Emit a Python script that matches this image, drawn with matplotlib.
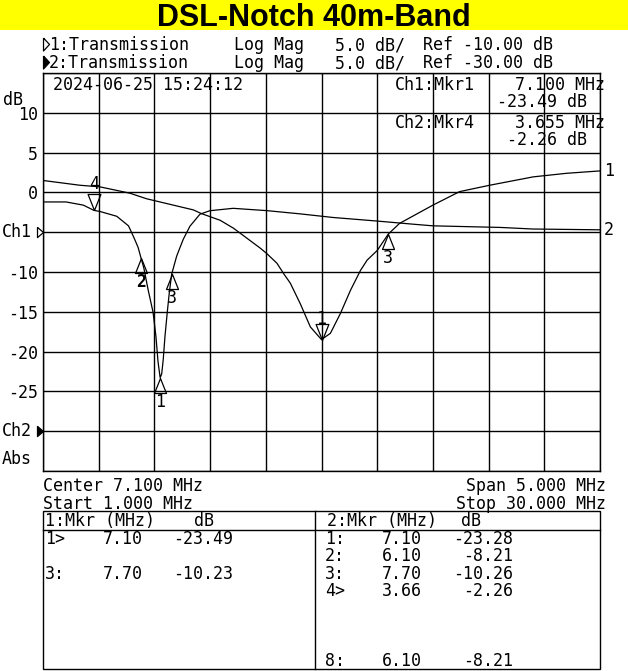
import matplotlib
matplotlib.use("Agg")
import matplotlib.pyplot as plt
from matplotlib.patches import Rectangle
import numpy as np

# Ch1: narrow sweep (centre 7.1 MHz, span 5 MHz), ref -10 dB, 5 dB/div
ch1_mhz = [4.60, 4.93, 5.11, 5.38, 5.53, 5.77, 5.95, 6.02, 6.19, 6.31, 6.55, 6.61,
           6.70, 6.76, 6.82, 6.91, 7.00, 7.10, 7.18, 7.27, 7.36, 7.45, 7.51, 7.60,
           7.70, 7.80, 8.10, 8.34, 8.61, 9.00, 9.30, 9.60]
ch1_db = [-3.5, -4.1, -4.3, -5.1, -5.8, -6.6, -7.2, -7.65, -8.5, -9.5, -12.0, -12.7,
          -13.9, -15.2, -16.4, -19.0, -21.9, -23.49, -22.7, -20.2, -17.3, -14.8, -13.5, -12.3,
          -10.23, -8.9, -6.6, -4.9, -4.1, -3.05, -2.6, -2.3]

# Ch2: wide sweep 1..30 MHz, ref -30 dB, 5 dB/div
ch2_mhz = [1.0, 2.2, 3.1, 3.655, 3.97, 4.84, 5.45, 5.72, 5.95, 6.10, 6.25, 6.47,
           6.73, 6.88, 6.99, 7.10, 7.18, 7.26, 7.35, 7.47, 7.58, 7.70, 7.96, 8.30,
           8.65, 9.17, 9.69, 10.9, 12.7, 14.4, 16.1, 18.4, 20.3, 21.3, 24.8, 26.5, 30.0]
ch2_db = [-1.2, -1.2, -1.6, -2.26, -2.4, -3.0, -4.2, -5.6, -6.9, -8.21, -9.5, -12.2,
          -15.05, -18.1, -21.3, -23.28, -22.8, -21.0, -18.1, -15.05, -12.5, -10.26, -8.0, -5.9,
          -4.25, -2.74, -2.3, -2.0, -2.3, -2.7, -3.15, -3.6, -4.0, -4.2, -4.4, -4.6, -4.7]

CH1_CENTER, CH1_SPAN, CH1_REF = 7.1, 5.0, -10.0
CH2_START, CH2_STOP, CH2_REF = 1.0, 30.0, -30.0
SCALE = 5.0

ch1_mkr_ids = ["1", "3"]
ch1_mkr_mhz = [7.10, 7.70]
ch1_mkr_db = [-23.49, -10.23]
ch1_active = "1"

ch2_mkr_ids = ["1", "2", "3", "4"]
ch2_mkr_mhz = [7.10, 6.10, 7.70, 3.655]
ch2_mkr_db = [-23.28, -8.21, -10.26, -2.26]
ch2_active = "4"

y_tick_vals = [10, 5, 0, -10, -15, -20, -25]

tab1_rows = [0, 2]
tab1_ids = ["1>", "3:"]
tab1_mhz = ["7.10", "7.70"]
tab1_db = ["-23.49", "-10.23"]
tab2_rows = [0, 1, 2, 3, 7]
tab2_ids = ["1:", "2:", "3:", "4>", "8:"]
tab2_mhz = ["7.10", "6.10", "7.70", "3.66", "6.10"]
tab2_db = ["-23.28", "-8.21", "-10.26", "-2.26", "-8.21"]

W, H = 628, 671
MONO = dict(family=["DejaVu Sans Mono", "DejaVu Sans"], size=12, color="black")
PT = 0.72  # points per pixel at dpi 100

TRI_UP = [(0, 0), (-0.4, -1), (0.4, -1), (0, 0)]
TRI_DN = [(0, 0), (-0.4, 1), (0.4, 1), (0, 0)]
REF_TRI = [(-1, 0.85), (-1, -0.85), (0, 0), (-1, 0.85)]
HDR_TRI = [(-0.92, 1), (-0.92, -1), (0, 0), (-0.92, 1)]


def rect(x0, y0, x1, y1):
    return [x0 / W, 1 - y1 / H, (x1 - x0) / W, (y1 - y0) / H]


fig = plt.figure(figsize=(W / 100, H / 100), dpi=100, facecolor="white")
ov = fig.add_axes([0, 0, 1, 1])
ov.set_xlim(0, W); ov.set_ylim(H, 0); ov.axis("off")

# title band
ov.add_patch(Rectangle((0, 0), W, 30, color="#ffff00", lw=0))
ov.text(314, 26, "DSL-Notch 40m-Band", family="Liberation Sans", weight="bold",
        size=22, ha="center", va="baseline")

# channel header lines
ov.plot(49, 43.5, marker=HDR_TRI, ms=13 * PT, mfc="white", mec="black", mew=0.9)
ov.plot(49, 61.5, marker=HDR_TRI, ms=13 * PT, mfc="black", mec="black", mew=0.9)
for yb, ch, ref in ((50, 1, CH1_REF), (68, 2, CH2_REF)):
    ov.text(49, yb, f"{ch}:Transmission", va="baseline", **MONO)
    ov.text(234, yb, "Log Mag", va="baseline", **MONO)
    ov.text(335, yb, f"{SCALE:.1f} dB/", va="baseline", **MONO)
    ov.text(423, yb, f"Ref {ref:.2f} dB", va="baseline", **MONO)

# grid axes (Ch2 scale, active channel)
ax2 = fig.add_axes(rect(43, 73, 600, 471))
ax2.set_facecolor("none")
ax2.set_xlim(CH2_START, CH2_STOP)
ax2.set_ylim(CH2_REF - 1 * SCALE, CH2_REF + 9 * SCALE)
ax2.set_xticks(np.linspace(CH2_START, CH2_STOP, 11))
yt = np.linspace(CH2_REF - SCALE, CH2_REF + 9 * SCALE, 11)
ax2.set_yticks(yt)
ax2.set_yticklabels([f"{v:.0f}" if round(v) in y_tick_vals else "" for v in yt],
                    **MONO)
ax2.set_xticklabels([])
ax2.tick_params(length=0, pad=5 * PT)
ax2.grid(True, color="black", lw=1.0)
for sp in ax2.spines.values():
    sp.set_color("black"); sp.set_linewidth(1.0)

ax1 = fig.add_axes(rect(43, 73, 600, 471))
ax1.set_facecolor("none")
ax1.set_xlim(CH1_CENTER - CH1_SPAN / 2, CH1_CENTER + CH1_SPAN / 2)
ax1.set_ylim(CH1_REF - 6 * SCALE, CH1_REF + 4 * SCALE)
ax1.axis("off")

# traces
ax1.plot(ch1_mhz, ch1_db, color="black", lw=0.9)
ax2.plot(ch2_mhz, ch2_db, color="black", lw=0.9)

# markers
for ax, ids, fs, dbs, act in ((ax1, ch1_mkr_ids, ch1_mkr_mhz, ch1_mkr_db, ch1_active),
                              (ax2, ch2_mkr_ids, ch2_mkr_mhz, ch2_mkr_db, ch2_active)):
    for i, f, d in zip(ids, fs, dbs):
        if i == act:
            ax.plot(f, d, marker=TRI_DN, ms=32 * PT, mfc="none", mec="black", mew=0.9)
            off = 21 if ax is ax1 else 26
        else:
            ax.plot(f, d, marker=TRI_UP, ms=30 * PT, mfc="none", mec="black", mew=0.9)
            off = -24
        ax.annotate(i, (f, d), xytext=(0, off), textcoords="offset pixels",
                    ha="center", va="center",
                    fontweight="bold" if (ax is ax2 and i == "2") else "normal", **MONO)

# trace end labels
ax1.annotate("1", (ch1_mhz[-1], ch1_db[-1]), xytext=(4, 0), textcoords="offset pixels",
             ha="left", va="center", annotation_clip=False, **MONO)
ax2.annotate("2", (ch2_mhz[-1], ch2_db[-1]), xytext=(4, 0), textcoords="offset pixels",
             ha="left", va="center", annotation_clip=False, **MONO)

# reference position arrows and left labels
ax1.plot(ax1.get_xlim()[0], CH1_REF, marker=REF_TRI, ms=12 * PT, mfc="white",
         mec="black", mew=0.9, clip_on=False)
ax2.plot(ax2.get_xlim()[0], CH2_REF, marker=REF_TRI, ms=12 * PT, mfc="black",
         mec="black", mew=0.9, clip_on=False)
ax1.annotate("Ch1", (0, CH1_REF), xycoords=("axes fraction", "data"), xytext=(-41, 0),
             textcoords="offset pixels", ha="left", va="center", **MONO)
ax2.annotate("Ch2", (0, CH2_REF), xycoords=("axes fraction", "data"), xytext=(-41, 0),
             textcoords="offset pixels", ha="left", va="center", **MONO)
ov.text(3, 105, "dB", va="baseline", **MONO)
ov.text(2, 464, "Abs", va="baseline", **MONO)

# date and marker readouts
ov.text(53, 90, "2024-06-25 15:24:12", va="baseline", **MONO)
ov.text(395, 90, "Ch1:Mkr1", va="baseline", **MONO)
ov.text(605, 90, f"{ch1_mkr_mhz[0]:.3f} MHz", ha="right", va="baseline", **MONO)
ov.text(587, 107, f"{ch1_mkr_db[0]:.2f} dB", ha="right", va="baseline", **MONO)
ov.text(395, 128, "Ch2:Mkr4", va="baseline", **MONO)
ov.text(605, 128, f"{ch2_mkr_mhz[3]:.3f} MHz", ha="right", va="baseline", **MONO)
ov.text(587, 145, f"{ch2_mkr_db[3]:.2f} dB", ha="right", va="baseline", **MONO)

# sweep settings
ov.text(43, 491, f"Center {CH1_CENTER:.3f} MHz", va="baseline", **MONO)
ov.text(43, 509, f"Start {CH2_START:.3f} MHz", va="baseline", **MONO)
ov.text(606, 491, f"Span {CH1_SPAN:.3f} MHz", ha="right", va="baseline", **MONO)
ov.text(606, 509, f"Stop {CH2_STOP:.3f} MHz", ha="right", va="baseline", **MONO)

# marker tables
ov.add_patch(Rectangle((43, 511), 557, 158, fill=False, lw=1.0, ec="black"))
ov.plot([43, 600], [530, 530], color="black", lw=1.0)
ov.plot([315, 315], [511, 669], color="black", lw=1.0)
ov.text(45, 526, "1:Mkr (MHz)", va="baseline", **MONO)
ov.text(194, 526, "dB", va="baseline", **MONO)
ov.text(327, 526, "2:Mkr (MHz)", va="baseline", **MONO)
ov.text(461, 526, "dB", va="baseline", **MONO)
for x_id, x_f, x_d, rows, ids, fs, ds in ((45, 143, 233, tab1_rows, tab1_ids, tab1_mhz, tab1_db),
                                          (325, 422, 513, tab2_rows, tab2_ids, tab2_mhz, tab2_db)):
    for r, i, f, d in zip(rows, ids, fs, ds):
        yb = 544 + 17.4 * r
        ov.text(x_id, yb, i, va="baseline", **MONO)
        ov.text(x_f, yb, f, ha="right", va="baseline", **MONO)
        ov.text(x_d, yb, d, ha="right", va="baseline", **MONO)

fig.savefig("out.png", dpi=100, facecolor="white")
